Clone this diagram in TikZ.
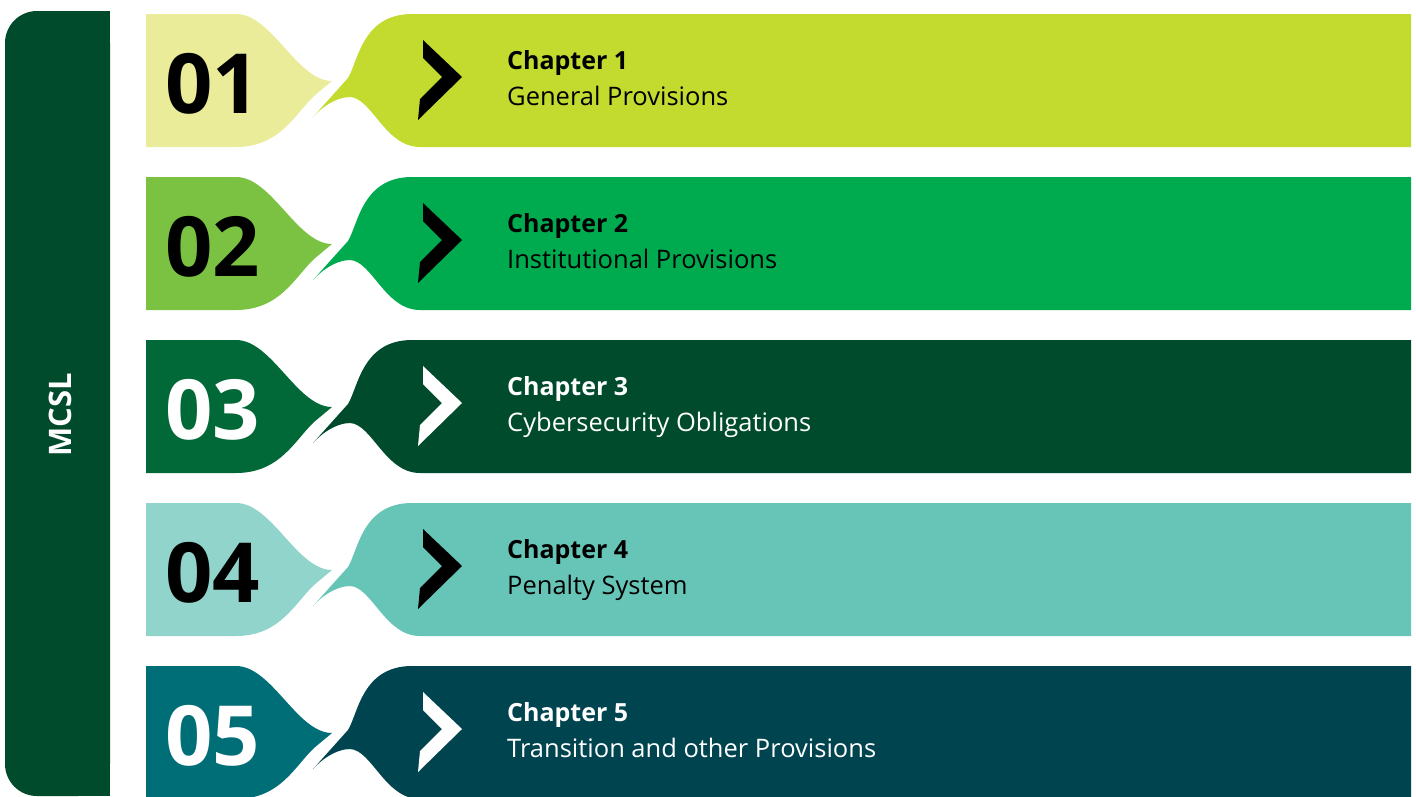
\documentclass[tikz,border=0pt]{standalone}
\usepackage{fontspec}
\setmainfont{Open Sans}
\definecolor{barc}{HTML}{004B2C}
\definecolor{la}{HTML}{EAEC9A}
\definecolor{ra}{HTML}{C3DB2E}
\definecolor{lb}{HTML}{7CC242}
\definecolor{rb}{HTML}{00AB4F}
\definecolor{lc}{HTML}{006937}
\definecolor{rc}{HTML}{004B2C}
\definecolor{ld}{HTML}{90D4CC}
\definecolor{rd}{HTML}{66C5B6}
\definecolor{le}{HTML}{006E76}
\definecolor{re}{HTML}{00444F}
\begin{document}
\begin{tikzpicture}[x=1pt,y=-1pt,
  numtext/.style={anchor=base west, font=\fontsize{83}{83}\selectfont\bfseries, inner sep=0pt},
  chaptext/.style={anchor=base west, font=\fontsize{25}{25}\selectfont\bfseries, inner sep=0pt},
  subtext/.style={anchor=base west, font=\fontsize{25.5}{25.5}\selectfont, inner sep=0pt},
  bartext/.style={rotate=90, text=white, font=\fontsize{31}{31}\selectfont\bfseries, inner sep=0pt}]
\useasboundingbox (0,0) rectangle (1416,796);
% side bar
\fill[barc, rounded corners=32pt] (5,11) rectangle (110,796);
\fill[barc] (60,11) rectangle (110,796);
\node[bartext] (mcsl) at (60,415) {MCSL};
% rows
\foreach \i/\lcol/\rcol/\tcol/\title in {
  1/la/ra/black/General Provisions,
  2/lb/rb/black/Institutional Provisions,
  3/lc/rc/white/Cybersecurity Obligations,
  4/ld/rd/black/Penalty System,
  5/le/re/white/Transition and other Provisions}{
  \begin{scope}[yshift={(1-\i)*163pt}]
    \fill[\lcol] (146,14) -- (236,14) .. controls (272,14) and (297,81) .. (332,81)
      -- (314,96) .. controls (295,114) and (280,147) .. (236,147) -- (146,147) -- cycle;
    \fill[\rcol] (412,14) -- (1411,14) -- (1411,147) -- (420,147)
      .. controls (385,147) and (372,98) .. (350,97)
      .. controls (335,97) and (320,109) .. (313,117)
      -- (348,78) .. controls (358,62) and (362,14) .. (412,14) -- cycle;
    \fill[\tcol] (423,40) -- (462,77) -- (418,120) -- (420,99) -- (442,77) -- (423,58) -- cycle;
    \node[numtext, text=\tcol] (num\i) at (165,113) {0\i};
    \node[chaptext, text=\tcol] (chap\i) at (507,69) {Chapter \i};
    \node[subtext, text=\tcol] (title\i) at (507,105) {\title};
  \end{scope}
}
\end{tikzpicture}
\end{document}
